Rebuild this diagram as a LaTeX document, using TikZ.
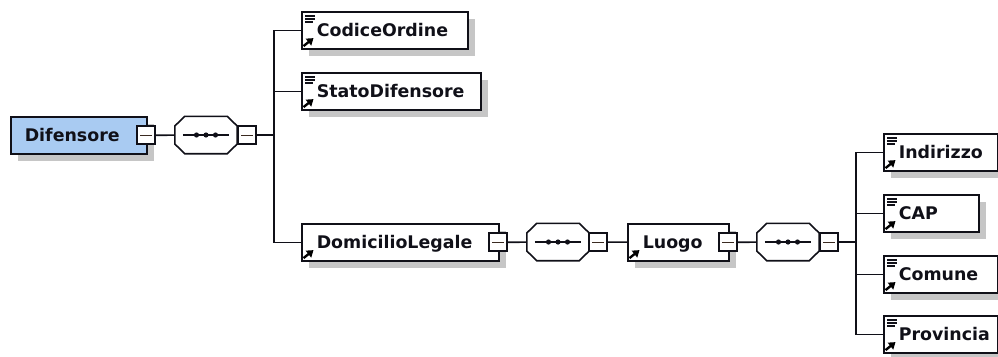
\documentclass[tikz,border=0pt]{standalone}
\usepackage{fontspec}
\setmainfont{DejaVu Sans}
\usetikzlibrary{shadows,arrows.meta,calc}
\definecolor{ink}{HTML}{101018}
\definecolor{shade}{HTML}{C6C6C6}
\definecolor{elblue}{HTML}{A9CBF2}
\definecolor{minusline}{HTML}{3A2A20}
\tikzset{
  cast/.style={general shadow={fill=shade,shadow xshift=7pt,shadow yshift=-7pt}},
  elbox/.style={draw=ink,line width=1.6pt,fill=white,cast,rectangle,anchor=north west,
    minimum height=37pt,inner xsep=8pt,inner ysep=0pt,align=left,
    font=\fontsize{17.4pt}{20pt}\selectfont\bfseries,text=ink,
    text height=13pt,text depth=0pt},
  minusbox/.style={draw=ink,line width=1.6pt,fill=white,rectangle,minimum width=18pt,minimum height=18pt,inner sep=0pt,
    path picture={\draw[minusline,line width=1pt] ([xshift=3pt]path picture bounding box.west) -- ([xshift=-3pt]path picture bounding box.east);}},
  seqbox/.style={rectangle,minimum width=62pt,minimum height=37pt,inner sep=0pt},
  octline/.style={draw=ink,line width=1.6pt,fill=white},
  octshade/.style={fill=shade},
  wire/.style={draw=ink,line width=1.6pt},
  seqline/.style={draw=ink,line width=1.2pt},
  seqdot/.style={fill=ink,draw=none},
  notes/.style={draw=ink,line width=1.1pt},
  refarrow/.style={draw=black,line width=2.4pt,-{Triangle[length=6.5pt,width=8.5pt]}},
}
\newcommand{\octpath}[1]{%
  ($(#1.west)+(0,-9)$) -- ($(#1.north west)+(10,0)$) -- ($(#1.north east)+(-10,0)$) -- ($(#1.east)+(0,-9)$) --
  ($(#1.east)+(0,9)$) -- ($(#1.south east)+(-10,0)$) -- ($(#1.south west)+(10,0)$) -- ($(#1.west)+(0,9)$) -- cycle}
\newcommand{\seqmark}[1]{%
  \begin{scope}[shift={(7,7)}]\path[octshade] \octpath{#1};\end{scope}
  \path[octline] \octpath{#1};
  \draw[seqline] ([xshift=8pt]#1.west) -- ([xshift=-8pt]#1.east);
  \fill[seqdot] ([xshift=-9.5pt]#1.center) circle (2.6pt) (#1.center) circle (2.6pt) ([xshift=9.5pt]#1.center) circle (2.6pt);}
\newcommand{\refmark}[1]{%
  \draw[refarrow] ([xshift=2.5pt,yshift=3.5pt]#1.south west) -- ([xshift=12.5pt,yshift=11.5pt]#1.south west);}
\newcommand{\notemark}[1]{%
  \draw[notes] ([xshift=4pt,yshift=-5pt]#1.north west) -- ++(10pt,0)
               ([xshift=4pt,yshift=-8pt]#1.north west) -- ++(10pt,0)
               ([xshift=4pt,yshift=-11pt]#1.north west) -- ++(8pt,0);}
\begin{document}
\begin{tikzpicture}[x=1pt,y=-1pt]
\useasboundingbox (0,0) rectangle (998,356);
\fill[white] (0,0) rectangle (998,356);
% elements
\node[elbox,fill=elblue,minimum width=136pt,text width=120pt] (dif) at (10,116) {\hspace*{6pt}Difensore};
\node[elbox,minimum width=166pt,text width=150pt] (cod) at (301,11) {\hspace*{7pt}CodiceOrdine};
\node[elbox,minimum width=179pt,text width=163pt] (sta) at (301,72) {\hspace*{7pt}StatoDifensore};
\node[elbox,minimum width=197pt,text width=181pt] (dom) at (301,223) {\hspace*{7pt}DomicilioLegale};
\node[elbox,minimum width=101pt,text width=85pt] (luo) at (627,223) {\hspace*{7pt}Luogo};
\node[elbox,minimum width=114pt,text width=98pt] (ind) at (883,133) {\hspace*{7pt}\mbox{Indirizzo}};
\node[elbox,minimum width=95pt,text width=79pt] (cap) at (883,194) {\hspace*{7pt}CAP};
\node[elbox,minimum width=114pt,text width=98pt] (com) at (883,255) {\hspace*{7pt}\mbox{Comune}};
\node[elbox,minimum width=114pt,text width=98pt] (pro) at (883,315) {\hspace*{7pt}\mbox{Provincia}};
% sequence compositors
\node[seqbox] (s1) at (206,135) {};
\node[seqbox] (s2) at (558,242) {};
\node[seqbox] (s3) at (788,242) {};
\coordinate (j1) at (274,135);
\coordinate (j2) at (856,242);
% connectors
\draw[wire] (dif.east) -- (s1);
\draw[wire] (s1) -- (j1);
\draw[wire] (j1) |- (cod);
\draw[wire] (j1) |- (sta);
\draw[wire] (j1) |- (dom);
\draw[wire] (dom.east) -- (s2);
\draw[wire] (s2) -- (luo);
\draw[wire] (luo.east) -- (s3);
\draw[wire] (s3) -- (j2);
\draw[wire] (j2) |- (ind);
\draw[wire] (j2) |- (cap);
\draw[wire] (j2) |- (com);
\draw[wire] (j2) |- (pro);
\seqmark{s1}\seqmark{s2}\seqmark{s3}
% collapse boxes
\node[minusbox] (m1) at (146,135) {};
\node[minusbox] (m2) at (247,135) {};
\node[minusbox] (m3) at (498,242) {};
\node[minusbox] (m4) at (598,242) {};
\node[minusbox] (m5) at (728,242) {};
\node[minusbox] (m6) at (829,242) {};
\foreach \n in {cod,sta,dom,luo,ind,cap,com,pro}{\refmark{\n}}
\foreach \n in {cod,sta,ind,cap,com,pro}{\notemark{\n}}
\end{tikzpicture}
\end{document}
